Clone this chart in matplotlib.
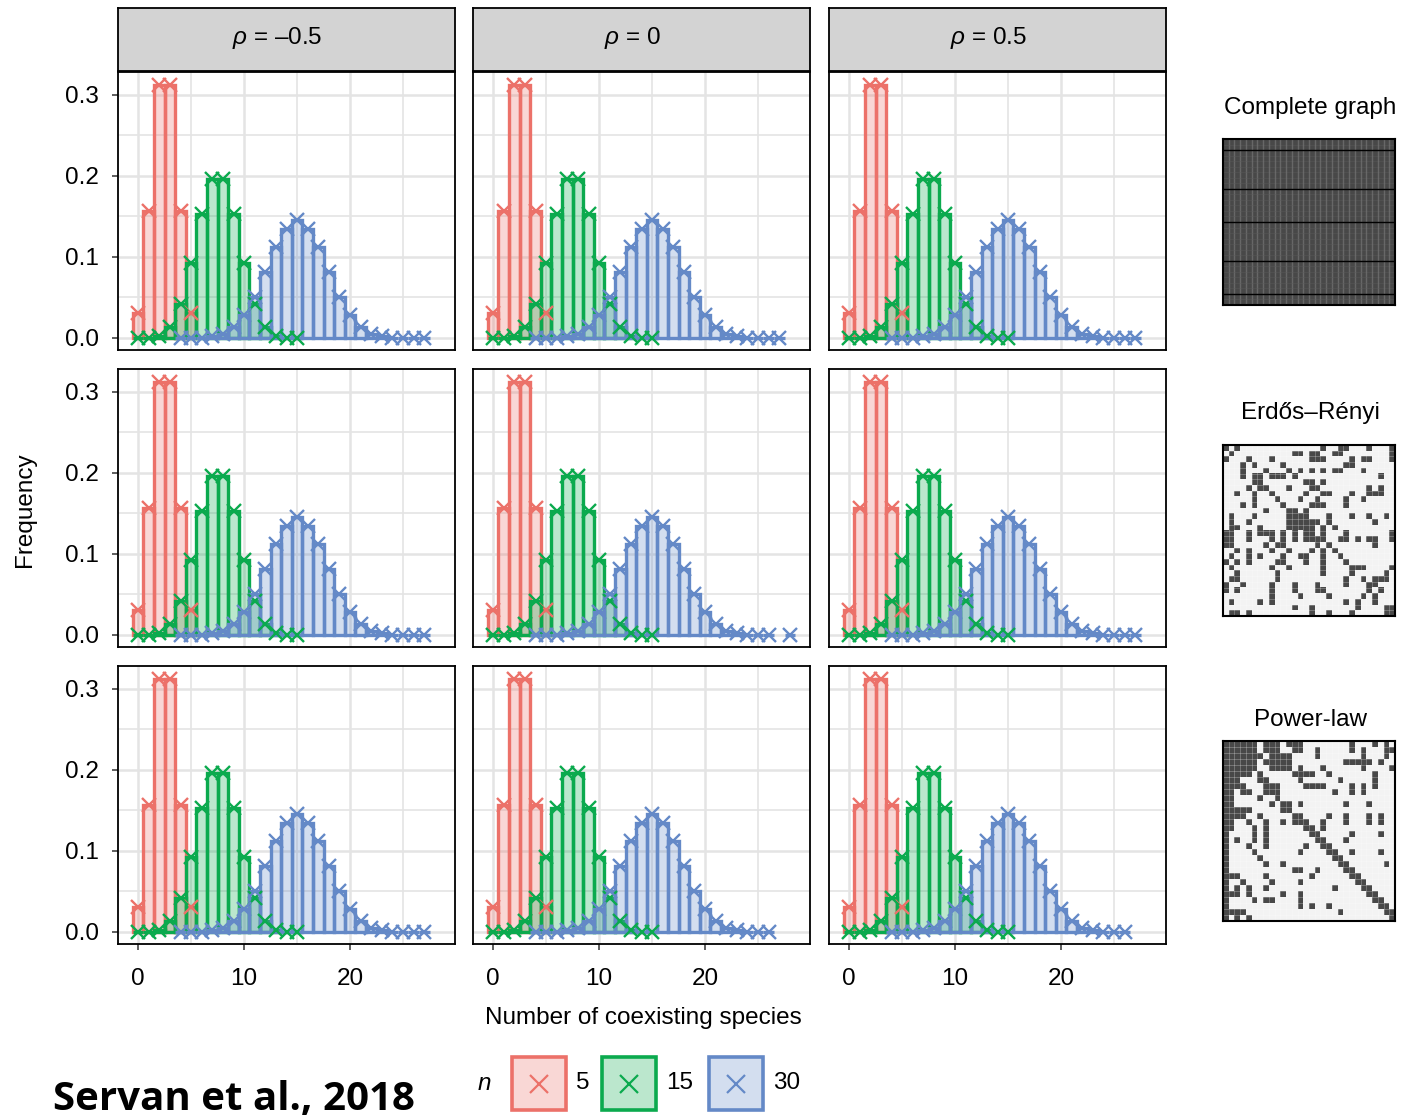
import numpy as np
import matplotlib
matplotlib.use('Agg')
import matplotlib.pyplot as plt
from matplotlib.colors import to_rgba, ListedColormap
from matplotlib.patches import Rectangle

plt.rcParams['font.family'] = ['Liberation Sans', 'DejaVu Sans']
plt.rcParams['mathtext.fontset'] = 'custom'
plt.rcParams['mathtext.it'] = 'Liberation Sans:italic'
plt.rcParams['mathtext.rm'] = 'Liberation Sans'

# ---- data ----
rho_labels = [r'$\it{\rho}$ = ' + '\u20130.5', r'$\it{\rho}$ = 0', r'$\it{\rho}$ = 0.5']
network_names = ['Complete graph', 'Erd\u0151s\u2013R\u00e9nyi', 'Power-law']
n_values = ['5', '15', '30']

red_x = [0, 1, 2, 3, 4, 5]
red_freq = [0.031, 0.156, 0.312, 0.312, 0.156, 0.031]

green_x = [0, 1, 2, 3, 4, 5, 6, 7, 8, 9, 10, 11, 12, 13, 14, 15]
green_freq = [0.0, 0.0005, 0.003, 0.014, 0.042, 0.092, 0.153, 0.196,
              0.196, 0.153, 0.092, 0.042, 0.014, 0.003, 0.0005, 0.0]

blue_x = [4, 5, 6, 7, 8, 9, 10, 11, 12, 13, 14, 15, 16, 17, 18, 19,
          20, 21, 22, 23, 24, 25, 26, 27]
blue_freq = [0.0, 0.0001, 0.0006, 0.002, 0.0055, 0.013, 0.028, 0.051,
             0.081, 0.112, 0.135, 0.145, 0.135, 0.112, 0.081, 0.051,
             0.028, 0.013, 0.0055, 0.002, 0.0006, 0.0001, 0.0, 0.0]
# largest observed richness for n = 30 in each panel (row, col)
blue_last = [[27, 27, 27],
             [27, 26, 27],
             [27, 26, 26]]
# isolated extra observation (row 2, col 2)
blue_extra = {(1, 1): (28, 0.0)}

# adjacency matrices (dark cells per row), 30 x 30
er_rows = [
    [0, 2, 17, 20, 21, 25, 29],
    [1, 12, 13, 15, 16, 19, 20, 29],
    [0, 4, 8, 15, 16, 17, 22, 24, 25, 29],
    [3, 5, 10, 21, 22],
    [3, 7, 11, 13, 15, 17, 19, 20, 24],
    [3, 5, 6, 8, 9, 10, 12, 27],
    [5, 6, 14, 15, 17],
    [4, 6, 7, 11, 15, 16, 25, 27],
    [2, 5, 8, 14, 17, 18, 22, 25, 26, 27],
    [5, 9, 13, 16, 21, 24],
    [3, 5, 10, 15, 16, 17, 21],
    [7, 11, 12, 14],
    [1, 5, 11, 12, 13, 14, 18, 22, 25, 28],
    [1, 4, 11, 12, 13, 14, 15, 16, 18, 26],
    [1, 2, 6, 11, 12, 13, 14, 15, 17, 19],
    [0, 1, 4, 6, 7, 8, 10, 12, 14, 15, 17, 21, 29],
    [0, 1, 4, 8, 10, 12, 14, 15, 16, 17, 20, 21, 23, 25, 26, 29],
    [0, 1, 7, 9, 10, 16, 18, 26],
    [2, 4, 8, 11, 15, 17, 19],
    [1, 4, 6, 10, 13, 14, 17, 20],
    [0, 2, 4, 9, 10, 14, 17, 21],
    [1, 8, 11, 17, 22, 23, 24, 29],
    [2, 9, 17, 22, 28],
    [1, 2, 9, 21, 24, 26, 27, 28],
    [0, 3, 8, 12, 16, 21, 25, 26],
    [0, 2, 8, 12, 16, 17, 25, 27],
    [8, 13, 18, 24, 26],
    [1, 6, 8, 21, 23, 26],
    [12, 15, 23, 28, 29],
    [1, 2, 4, 15, 18, 22, 28, 29],
]
pl_rows = [
    [0, 1, 2, 3, 4, 5, 7, 8, 9, 11, 12, 13, 22, 26, 28],
    [0, 1, 2, 3, 4, 5, 7, 8, 9, 12, 13, 16, 22, 24, 28, 29],
    [0, 1, 2, 3, 4, 5, 6, 8, 9, 10, 11, 16, 24, 28],
    [0, 1, 2, 3, 4, 5, 7, 8, 9, 10, 11, 21, 22, 23, 24, 25, 27],
    [0, 1, 2, 3, 4, 5, 8, 9, 10, 11, 13, 17, 24, 29],
    [0, 1, 2, 3, 4, 6, 12, 13, 14, 15, 18, 26],
    [0, 1, 2, 6, 7, 13, 20, 26],
    [0, 1, 2, 3, 7, 8, 9, 14, 15, 16, 17, 22, 24, 26],
    [0, 1, 3, 4, 7, 8, 9, 19, 22, 24],
    [0, 1, 6, 9],
    [0, 1, 8, 10, 11, 13, 21, 25],
    [0, 1, 2, 3, 4, 10, 11],
    [0, 1, 2, 3, 6, 12, 13, 18, 21, 25, 27],
    [0, 1, 4, 7, 10, 12, 13, 14, 17, 21, 25, 27],
    [0, 1, 5, 7, 14, 15, 17],
    [0, 5, 7, 15, 16, 22, 27],
    [0, 2, 5, 7, 16, 17, 21],
    [0, 4, 7, 14, 17, 18],
    [0, 5, 13, 18, 19, 22, 27],
    [0, 6, 19, 20],
    [0, 7, 10, 20, 21, 28],
    [0, 12, 13, 16, 21, 22],
    [0, 1, 2, 7, 15, 22, 23],
    [0, 3, 8, 13, 23, 24],
    [0, 2, 4, 7, 19, 24, 25],
    [0, 1, 2, 4, 10, 13, 25, 26],
    [0, 5, 7, 8, 13, 26, 27],
    [0, 13, 15, 18, 27, 28],
    [0, 1, 2, 3, 20, 28, 29],
    [0, 2, 4, 29],
]

# ---- styling ----
colors = ['#EC7169', '#0BAA4E', '#6489C7']
fill_alpha = 0.28
grid_col = '#E4E4E4'
fs = 17.5

W, H = 1427, 1117
fig = plt.figure(figsize=(W / 100, H / 100), dpi=100)


def px_axes(left, top, width, height):
    # axes placed in pixel coordinates (origin top-left)
    return fig.add_axes([left / W, 1 - (top + height) / H, width / W, height / H])


col_left = [118, 473, 829]
row_top = [72, 369, 666]
pw, ph = 337, 278

for i in range(3):
    for j in range(3):
        ax = px_axes(col_left[j], row_top[i], pw, ph)
        ax.set_xlim(-1.9, 29.9)
        ax.set_ylim(-0.0148, 0.328)
        ax.set_xticks([0, 10, 20])
        ax.set_xticks([5, 15, 25], minor=True)
        ax.set_yticks([0, 0.1, 0.2, 0.3])
        ax.set_yticks([0.05, 0.15, 0.25], minor=True)
        ax.grid(which='major', color=grid_col, lw=1.8)
        ax.grid(which='minor', color=grid_col, lw=1.2)
        ax.set_axisbelow(True)
        for s in ax.spines.values():
            s.set_linewidth(1.3)

        bx = [x for x in blue_x if x <= blue_last[i][j]]
        bf = blue_freq[:len(bx)]
        if (i, j) in blue_extra:
            bx = bx + [blue_extra[(i, j)][0]]
            bf = bf + [blue_extra[(i, j)][1]]

        series = [(red_x, red_freq), (green_x, green_freq), (bx, bf)]
        for (xs, ys), c in zip(series, colors):
            ax.bar(xs, ys, width=1.0, facecolor=to_rgba(c, fill_alpha),
                   edgecolor=c, linewidth=2.4, zorder=2)
        for (xs, ys), c in zip(series, colors):
            ax.plot(xs, ys, ls='none', marker='x', ms=10, mew=1.7, color=c, zorder=3)

        ax.tick_params(which='minor', length=0)
        ax.tick_params(which='major', length=4, width=1.1, color='#333333',
                       labelsize=fs, pad=10)
        ax.tick_params(axis='x', pad=13)
        if j == 0:
            ax.set_yticklabels(['0.0', '0.1', '0.2', '0.3'])
        else:
            ax.tick_params(axis='y', length=0, labelleft=False)
        if i == 2:
            ax.set_xticklabels(['0', '10', '20'])
        else:
            ax.tick_params(axis='x', length=0, labelbottom=False)

        if i == 0:
            st = px_axes(col_left[j], 8, pw, 63)
            st.set_facecolor('#D3D3D3')
            st.set_xticks([])
            st.set_yticks([])
            for s in st.spines.values():
                s.set_linewidth(1.3)
            st.text(0.472, 0.52, rho_labels[j], ha='center', va='center', fontsize=fs,
                    transform=st.transAxes)


# network matrices on the right
def draw_matrix(mat, top, height, title, title_y, complete=False):
    ax = px_axes(1223, top, 172, height)
    ax.imshow(mat, cmap=ListedColormap(['#F3F3F3', '#484848']), vmin=0, vmax=1,
              interpolation='nearest', aspect='auto')
    for k in np.arange(0.5, 29.5, 1):
        if complete:
            ax.axvline(k, color='#707070', lw=1.0, alpha=0.8)
            ax.axhline(k, color='#5a5a5a', lw=0.5, alpha=0.6)
        else:
            ax.axvline(k, color='white', lw=0.5, alpha=0.35)
            ax.axhline(k, color='white', lw=0.5, alpha=0.35)
    if complete:
        for k in [1.5, 8.5, 14.5, 21.5, 27.5]:
            ax.axhline(k, color='black', lw=1.0)
    ax.set_xticks([])
    ax.set_yticks([])
    for s in ax.spines.values():
        s.set_linewidth(1.5)
    fig.text(1310 / W, 1 - title_y / H, title, ha='center', va='center', fontsize=fs)


complete = np.ones((30, 30))
er = np.zeros((30, 30))
for r, cols in enumerate(er_rows):
    er[r, cols] = 1
pl = np.zeros((30, 30))
for r, cols in enumerate(pl_rows):
    pl[r, cols] = 1

draw_matrix(complete, 139, 166, network_names[0], 108, complete=True)
draw_matrix(er, 445, 171, network_names[1], 413)
draw_matrix(pl, 741, 180, network_names[2], 720)

# axis titles, legend and citation on a pixel overlay
ov = fig.add_axes([0, 0, 1, 1])
ov.set_xlim(0, W)
ov.set_ylim(H, 0)
ov.axis('off')

ov.text(25, 510, 'Frequency', rotation=90, ha='center', va='center', fontsize=fs)
ov.text(643, 1018, 'Number of coexisting species', ha='center', va='center', fontsize=fs)

ov.text(484, 1083, 'n', style='italic', ha='center', va='center', fontsize=fs)
box_left = [512, 602, 709]
for bl, c, lab in zip(box_left, colors, n_values):
    ov.add_patch(Rectangle((bl, 1057), 54, 53, facecolor=to_rgba(c, fill_alpha),
                           edgecolor=c, lw=2.6))
    ov.plot(bl + 27, 1083.5, marker='x', ms=13, mew=1.6, color=c)
    ov.text(bl + 64, 1083, lab, ha='left', va='center', fontsize=fs)

ov.text(53, 1110, 'Servan et al., 2018', family=['Open Sans', 'DejaVu Sans'],
        fontweight='bold', fontsize=29, ha='left', va='baseline')

fig.savefig('out.png', dpi=100)
